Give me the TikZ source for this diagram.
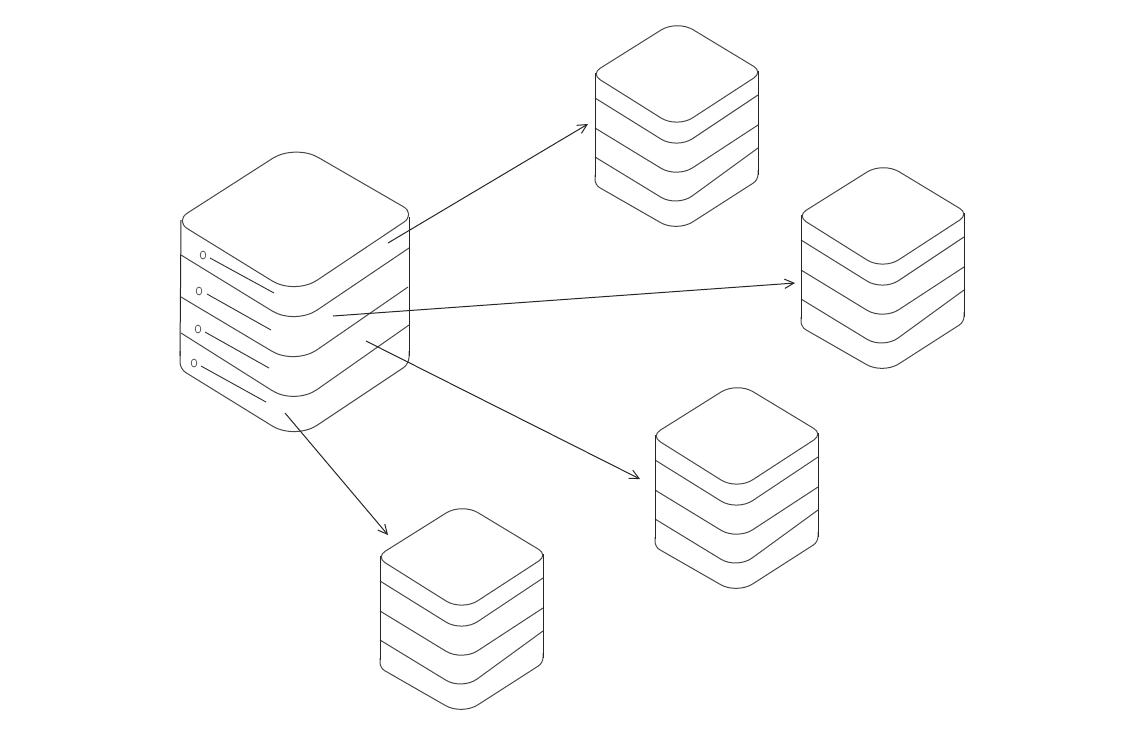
\documentclass[tikz,border=0pt]{standalone}
\usepackage{xcolor}
\usetikzlibrary{shapes,arrows.meta,positioning}

\begin{document}
\begin{tikzpicture}[
            x=0.75pt, y=-0.75pt,
            edge/.style={draw=black!72, line width=0.75pt, line join=round},
            side/.style={draw=black!85, line width=0.75pt},
            protocol/.style={-{Straight Barb[length=7pt,width=7pt]}, black!85, line width=0.75pt},
            led/.style={ellipse, draw=black!75, line width=0.5pt, inner sep=0pt, minimum width=4.2pt, minimum height=6pt},
            slot/.style={draw=black!80, line width=0.7pt},
            smallstack/.pic={
                \draw[edge, rounded corners=14pt] (0,-5) [rounded corners=8pt] -- (-86,49) [rounded corners=14pt] -- (0,103) [rounded corners=8pt] -- (86,47) [rounded corners=14pt] -- cycle;
                \draw[edge, rounded corners=14pt] (-82,73) -- (0,124) -- (81,70);
                \draw[edge, rounded corners=14pt] (-82,103) -- (0,153) -- (81,100);
                \draw[edge, rounded corners=14pt] (-82,132) -- (0,182) -- (81,123);
                \draw[edge] (-82,150) [rounded corners=4pt] -- (-82,160) [rounded corners=14pt] -- (0,207) [rounded corners=4pt] -- (81,155) [sharp corners] -- (81,145);
                \draw[side] (-82,48) -- (-82,152);
                \draw[side] (81,46) -- (81,150);
            }
        ]

        \path[use as bounding box] (0,0) rectangle (1128,744);

        % small stacks
        \pic at (677,25) {smallstack};
        \pic at (883,167) {smallstack};
        \pic at (737,387) {smallstack};
        \pic at (462,508) {smallstack};

        % big stack
        \begin{scope}[shift={(295,151)}]
            \draw[edge] (0,-7) [rounded corners=11pt] -- (-120,70) [rounded corners=20pt] -- (0,144) [rounded corners=11pt] -- (121,63) [rounded corners=20pt] -- cycle;
            \draw[edge, rounded corners=20pt] (-114,104) -- (0,174) -- (114,97);
            \draw[edge, rounded corners=20pt] (-114,146) -- (0,214) -- (113,136);
            \draw[edge, rounded corners=20pt] (-114,182) -- (0,254) -- (114,174);
            \draw[edge] (-115,200) [rounded corners=5pt] -- (-115,218) [rounded corners=20pt] -- (0,289) [rounded corners=5pt] -- (114,213) [sharp corners] -- (114,200);
            \draw[side] (-114,69) -- (-115,205);
            \draw[side] (114,66) -- (114,205);
        \end{scope}

        \node[led] (led1) at (203,255) {};
        \node[led] (led2) at (199,291) {};
        \node[led] (led3) at (198,329) {};
        \node[led] (led4) at (194,363) {};

        \coordinate (slot1a) at (210,258);
        \coordinate (slot1b) at (274,293);
        \coordinate (slot2a) at (207,294);
        \coordinate (slot2b) at (271,330);
        \coordinate (slot3a) at (205,332);
        \coordinate (slot3b) at (269,368);
        \coordinate (slot4a) at (201,366);
        \coordinate (slot4b) at (266,402);

        \draw[slot] (slot1a) -- (slot1b);
        \draw[slot] (slot2a) -- (slot2b);
        \draw[slot] (slot3a) -- (slot3b);
        \draw[slot] (slot4a) -- (slot4b);

        % arrows
        \coordinate (from1) at (388,243);
        \coordinate (to1) at (588,124);
        \coordinate (from2) at (333,316);
        \coordinate (to2) at (795,283);
        \coordinate (from3) at (366,341);
        \coordinate (to3) at (640,479);
        \coordinate (from4) at (285,413);
        \coordinate (to4) at (388,535);

        \draw[protocol] (from1) -- (to1);
        \draw[protocol] (from2) -- (to2);
        \draw[protocol] (from3) -- (to3);
        \draw[protocol] (from4) -- (to4);

    \end{tikzpicture}
\end{document}
